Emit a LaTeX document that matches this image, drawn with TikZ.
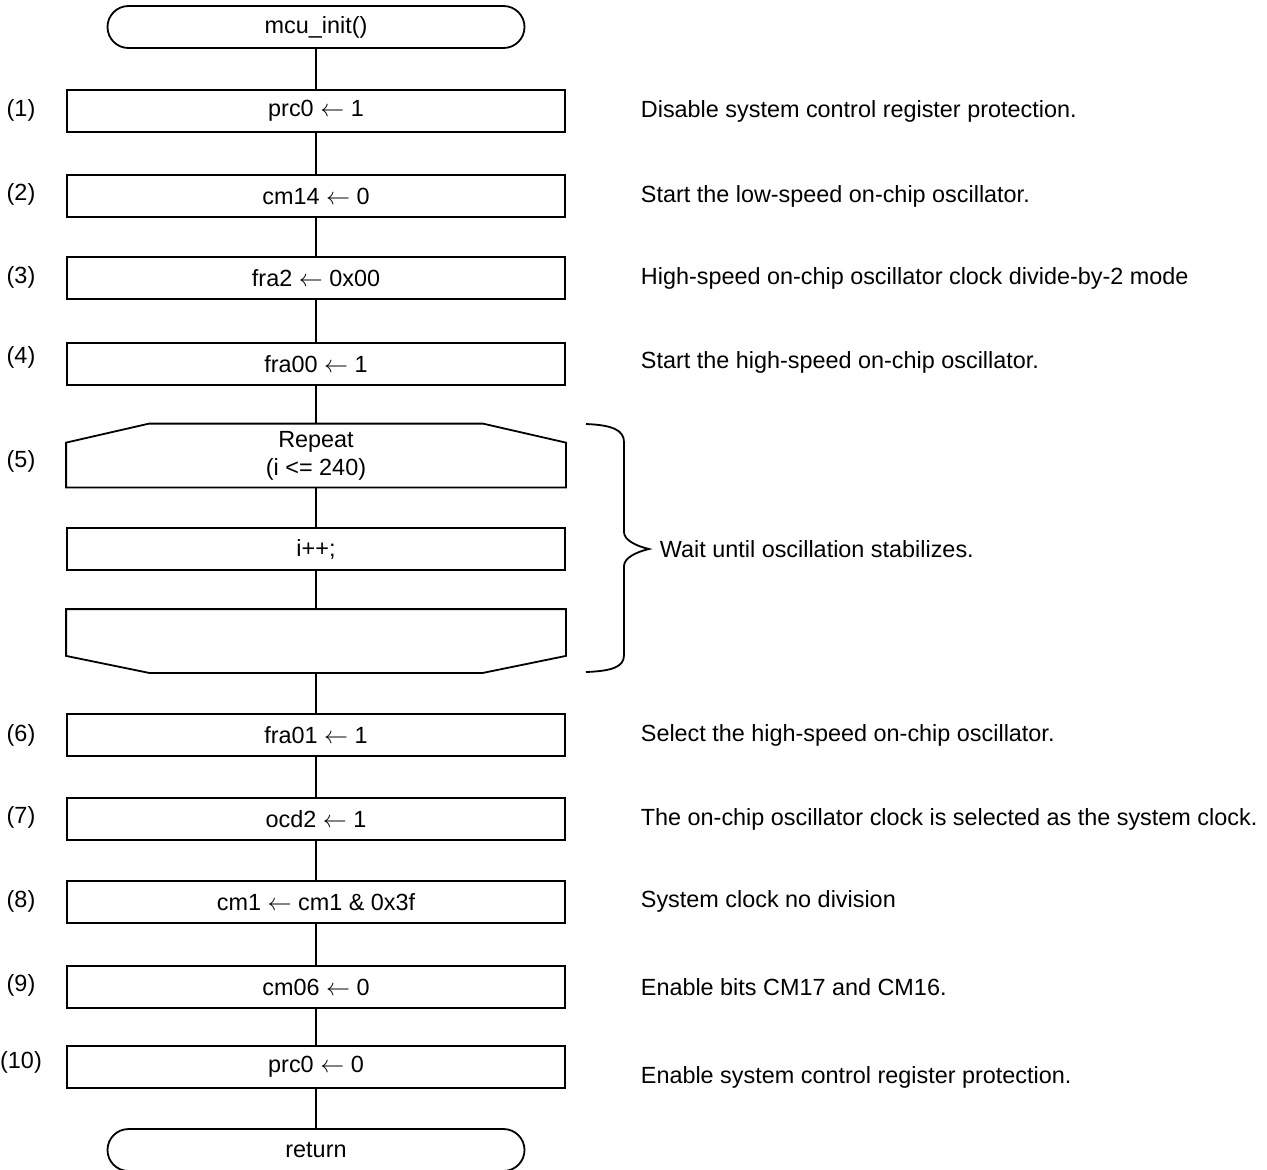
\documentclass[tikz,border=0pt]{standalone}
\usepackage{fontspec}
\setmainfont{Liberation Sans}
\usetikzlibrary{calc,shapes.misc}
\newcommand{\assign}{\ensuremath{\leftarrow}}
\begin{document}
\begin{tikzpicture}[x=0.5pt,y=-0.5pt,
  font=\fontsize{11.7}{14}\selectfont,
  line width=0.9pt,
  term/.style={rounded rectangle, draw, minimum width=208.5pt, minimum height=21pt, inner sep=0pt},
  proc/.style={rectangle, draw, minimum width=249pt, minimum height=21pt, inner sep=0pt},
  loopbox/.style={rectangle, minimum width=249pt, inner sep=0pt, align=center},
  numlabel/.style={anchor=center, inner sep=0pt},
  note/.style={anchor=west, inner sep=0pt}]
\useasboundingbox (0,0) rectangle (1267,1169);

% terminals and process steps
\node[term] (start) at (316,27) {mcu\_init()};
\node[proc] (s1) at (316,111) {prc0 \assign{} 1};
\node[proc] (s2) at (316,196) {cm14 \assign{} 0};
\node[proc] (s3) at (316,278) {fra2 \assign{} 0x00};
\node[proc] (s4) at (316,364) {fra00 \assign{} 1};
\node[loopbox, minimum height=31pt] (rep) at (316,455.5) {Repeat\\(i <= 240)};
\node[proc] (body) at (316,549) {i++;};
\node[loopbox, minimum height=31pt] (rend) at (316,641) {};
\node[proc] (s6) at (316,735) {fra01 \assign{} 1};
\node[proc] (s7) at (316,819) {ocd2 \assign{} 1};
\node[proc] (s8) at (316,902) {cm1 \assign{} cm1 \& 0x3f};
\node[proc] (s9) at (316,987) {cm06 \assign{} 0};
\node[proc] (s10) at (316,1067) {prc0 \assign{} 0};
\node[term] (stop) at (316,1150) {return};

% loop limit shapes
\draw ($(rep.south west)$) -- ($(rep.north west)+(0,19)$) -- ($(rep.north west)+(83,0)$)
  -- ($(rep.north east)+(-83,0)$) -- ($(rep.north east)+(0,19)$) -- (rep.south east) -- cycle;
\draw (rend.north west) -- ($(rend.south west)+(0,-17)$) -- ($(rend.south west)+(83,0)$)
  -- ($(rend.south east)+(-83,0)$) -- ($(rend.south east)+(0,-17)$) -- (rend.north east) -- cycle;

% flow line
\draw (start) -- (s1);
\draw (s1) -- (s2);
\draw (s2) -- (s3);
\draw (s3) -- (s4);
\draw (s4) -- (rep.north);
\draw (rep) -- (body);
\draw (body) -- (rend);
\draw (rend.south) -- (s6);
\draw (s6) -- (s7);
\draw (s7) -- (s8);
\draw (s8) -- (s9);
\draw (s9) -- (s10);
\draw (s10) -- (stop);

% step numbers
\node[numlabel] (n1) at (21,110) {(1)};
\node[numlabel] (n2) at (21,194) {(2)};
\node[numlabel] (n3) at (21,277) {(3)};
\node[numlabel] (n4) at (21,357) {(4)};
\node[numlabel] (n5) at (21,461) {(5)};
\node[numlabel] (n6) at (21,735) {(6)};
\node[numlabel] (n7) at (21,817) {(7)};
\node[numlabel] (n8) at (21,901) {(8)};
\node[numlabel] (n9) at (21,985) {(9)};
\node[numlabel] (n10) at (21,1062) {(10)};

% comments
\node[note] (c1) at (640,111) {Disable system control register protection.};
\node[note] (c2) at (640,196) {Start the low-speed on-chip oscillator.};
\node[note] (c3) at (640,278) {High-speed on-chip oscillator clock divide-by-2 mode};
\node[note] (c4) at (640,362) {Start the high-speed on-chip oscillator.};
\node[note] (c5) at (659,549) {Wait until oscillation stabilizes.};
\node[note] (c6) at (640,735) {Select the high-speed on-chip oscillator.};
\node[note] (c7) at (640,819) {The on-chip oscillator clock is selected as the system clock.};
\node[note] (c8) at (640,901) {System clock no division};
\node[note] (c9) at (640,987) {Enable bits CM17 and CM16.};
\node[note] (c10) at (640,1077) {Enable system control register protection.};

% brace around the loop
\coordinate (bt) at (586,424);
\coordinate (bb) at (586,672);
\coordinate (tip) at (649,549);
\draw (bt) .. controls (612,425) and (624,430) .. (624,442) -- (624,532)
  .. controls (624,540) and (636,546) .. (tip)
  .. controls (636,552) and (624,558) .. (624,566) -- (624,655)
  .. controls (624,667) and (612,671) .. (bb);
\end{tikzpicture}
\end{document}
